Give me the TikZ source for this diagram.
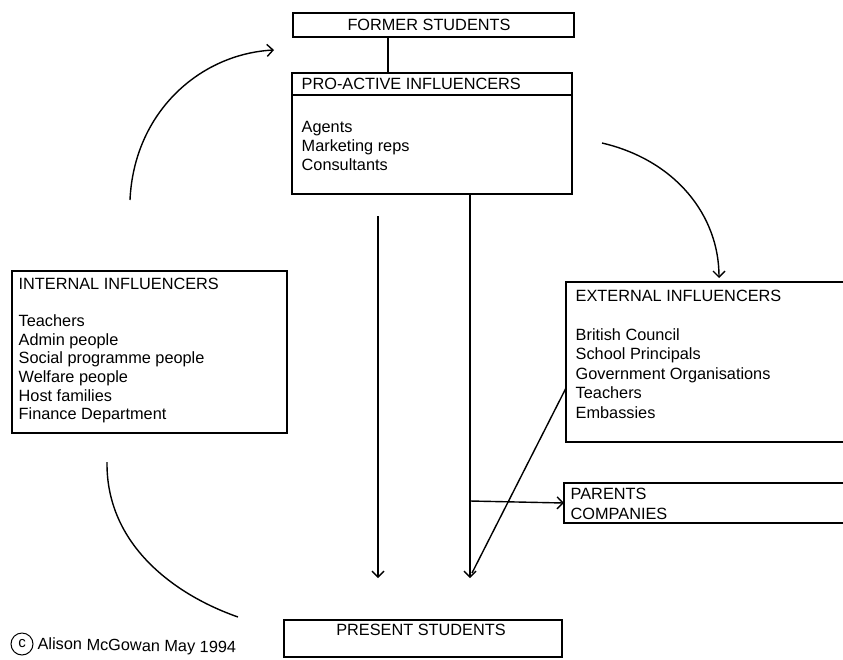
\documentclass[tikz,border=0pt]{standalone}
\usepackage{fontspec}
\setmainfont{Liberation Sans}
\usetikzlibrary{arrows.meta}
\begin{document}
\begin{tikzpicture}[x=1pt,y=-1pt,line width=1.4pt,
  box/.style={draw,rectangle,inner sep=0pt,outer sep=0pt,anchor=north west},
  txt/.style={inner sep=0pt,anchor=north west,align=left,font=\fontsize{16.3}{18.7}\selectfont},
  ltxt/.style={inner sep=0pt,anchor=west,font=\fontsize{16.3}{18.7}\selectfont},
  arr/.style={-{Straight Barb[length=6pt,width=12pt,line width=1.4pt]}}]
\useasboundingbox (0,0) rectangle (843,659);
\clip (0,0) rectangle (843,659);

% boxes
\node[box,minimum width=281pt,minimum height=24pt] (former) at (293,13) {};
\node[box,minimum width=280pt,minimum height=121pt] (pro) at (292,73) {};
\node[box,minimum width=275pt,minimum height=162pt] (internal) at (12,271) {};
\node[box,minimum width=290pt,minimum height=160pt] (external) at (566,282) {};
\node[box,minimum width=290pt,minimum height=40pt] (parents) at (564,483) {};
\node[box,minimum width=278pt,minimum height=37pt] (present) at (284,620) {};

\draw ([yshift=-22pt]pro.north west) -- ([yshift=-22pt]pro.north east);

% texts
\node[ltxt,anchor=center] (tformer) at (429,25) {FORMER STUDENTS};
\node[ltxt] (tproh) at (301,84) {PRO-ACTIVE INFLUENCERS};
\node[txt] (tpro) at (301,121) {Agents\\Marketing reps\\Consultants};
\node[txt] (tint) at (18,277) {INTERNAL INFLUENCERS\\ \\Teachers\\Admin people\\Social programme people\\Welfare people\\Host families\\Finance Department};
\node[txt,font=\fontsize{16.3}{19.5}\selectfont] (text) at (575,289) {EXTERNAL INFLUENCERS\\ \\British Council\\School Principals\\Government Organisations\\Teachers\\Embassies};
\node[txt,font=\fontsize{16.3}{20}\selectfont] (tpar) at (570,487) {PARENTS\\COMPANIES};
\node[ltxt,anchor=center] (tpres) at (421,630) {PRESENT STUDENTS};

% copyright
\node[draw,circle,line width=1pt,minimum size=22pt,inner sep=0pt,font=\fontsize{15}{15}\selectfont] (cc) at (22,644) {c};
\node[ltxt,rotate=-1] (copy) at (37,645) {Alison McGowan May 1994};

% connectors
\coordinate (fs) at (388,0);
\draw (former.south -| fs) -- (pro.north -| fs);

\coordinate (v1t) at (378,216);
\coordinate (v1b) at (378,578);
\draw[arr] (v1t) -- (v1b);

\coordinate (v2) at (470,0);
\coordinate (v2b) at (470,578);
\draw[arr] (pro.south -| v2) -- (v2b);

\coordinate (h1) at (470,501);
\draw[arr] (h1) -- (parents.west);

\coordinate (d1) at (566,388);
\coordinate (d2) at (472,573);
\draw (d1) -- (d2);

\coordinate (la1) at (130,200);
\coordinate (la2) at (274,50);
\draw[arr] (la1) .. controls (134,112) and (200,54) .. (la2);

\coordinate (ra1) at (602,143);
\coordinate (ra2) at (719,278);
\draw[arr] (ra1) .. controls (675,160) and (719,215) .. (ra2);

\coordinate (ba1) at (107,462);
\coordinate (ba2) at (238,617);
\draw (ba1) .. controls (106,545) and (175,595) .. (ba2);
\end{tikzpicture}
\end{document}
